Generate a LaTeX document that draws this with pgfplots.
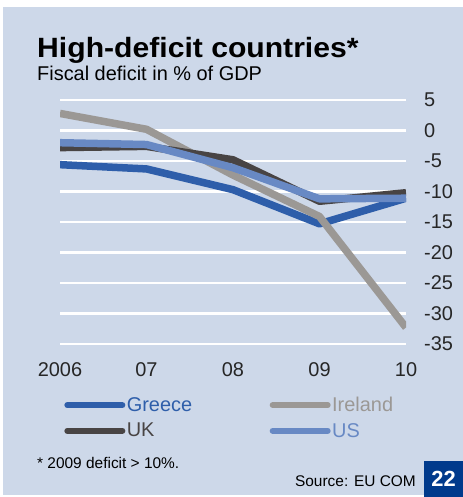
\documentclass[border=0pt]{standalone}
\usepackage{fontspec}
\setmainfont{Liberation Sans}
\usepackage{pgfplots}
\pgfplotsset{compat=1.18}

\definecolor{bgblue}{RGB}{205,216,233}
\definecolor{greece}{RGB}{46,94,170}
\definecolor{ireland}{RGB}{155,152,149}
\definecolor{uk}{RGB}{72,68,68}
\definecolor{us}{RGB}{104,137,196}
\definecolor{boxblue}{RGB}{0,58,140}

\begin{document}
\begin{tikzpicture}
\useasboundingbox (0,0) rectangle (463bp,-497bp);
\fill[bgblue] (3bp,-7bp) rectangle (463bp,-495bp);

% titles
\node[anchor=base west, inner sep=0pt, xscale=1.08, font=\fontsize{28}{30}\selectfont\bfseries]
  at (37bp,-57bp) {High-deficit countries*};
\node[anchor=base west, inner sep=0pt, font=\fontsize{20}{22}\selectfont]
  at (37bp,-80bp) {Fiscal deficit in \% of GDP};

\begin{axis}[
    at={(60bp,-344bp)}, anchor=south west,
    scale only axis,
    width=346bp, height=244bp,
    xmin=2006, xmax=2010, ymin=-35, ymax=5,
    axis line style={draw=none},
    major tick length=0pt,
    xtick={2006,2007,2008,2009,2010},
    xticklabels={2006,07,08,09,10},
    ytick={-35,-30,...,5},
    yticklabels={-35,-30,-25,-20,-15,-10,-5,0,5},
    yticklabel pos=right,
    ymajorgrids,
    grid style={white, line width=2.2bp},
    tick label style={font=\fontsize{20}{22}\selectfont, text=black!85},
    xticklabel style={anchor=base, yshift=-32.7bp},
    yticklabel style={anchor=west, xshift=14.7bp},
    every axis plot/.append style={line width=7.5bp, line join=round},
    legend image code/.code={\draw[#1, line width=6bp, line cap=round] (0bp,0bp) -- (55bp,0bp);},
    legend cell align=left,
    legend columns=2,
    legend style={at={(axis description cs:0.012,-0.213)}, anchor=north west,
        draw=none, fill=none, inner sep=0pt,
        font=\fontsize{20}{22}\selectfont,
        nodes={inner xsep=1.5bp, inner ysep=1bp},
        row sep=8bp,
        /tikz/every even column/.append style={column sep=76bp}},
]
\addplot[greece] coordinates {(2006,-5.6) (2007,-6.3) (2008,-9.7) (2009,-15.3) (2010,-11.1)};
\addlegendentry{\textcolor{greece}{Greece}}
\addplot[ireland] coordinates {(2006,2.8) (2007,0.2) (2008,-7.3) (2009,-14.1) (2010,-32.3)};
\addlegendentry{\textcolor{ireland}{Ireland}}
\addplot[uk] coordinates {(2006,-2.8) (2007,-2.6) (2008,-4.8) (2009,-11.6) (2010,-10.2)};
\addlegendentry{\textcolor{uk}{UK}}
\addplot[us] coordinates {(2006,-2.0) (2007,-2.3) (2008,-6.1) (2009,-11.2) (2010,-11.1)};
\addlegendentry{\textcolor{us}{US}}
\end{axis}

% footer
\node[anchor=base west, inner sep=0pt, font=\fontsize{15.5}{17}\selectfont]
  at (37bp,-468bp) {* 2009 deficit > 10\%.};
\node[anchor=base east, inner sep=0pt, font=\fontsize{15.5}{17}\selectfont]
  at (416bp,-486bp) {Source: EU COM};
\fill[boxblue] (424bp,-461bp) rectangle (463bp,-497bp);
\node[text=white, inner sep=0pt, font=\fontsize{22}{24}\selectfont\bfseries]
  at (443.5bp,-479bp) {22};
\end{tikzpicture}
\end{document}
